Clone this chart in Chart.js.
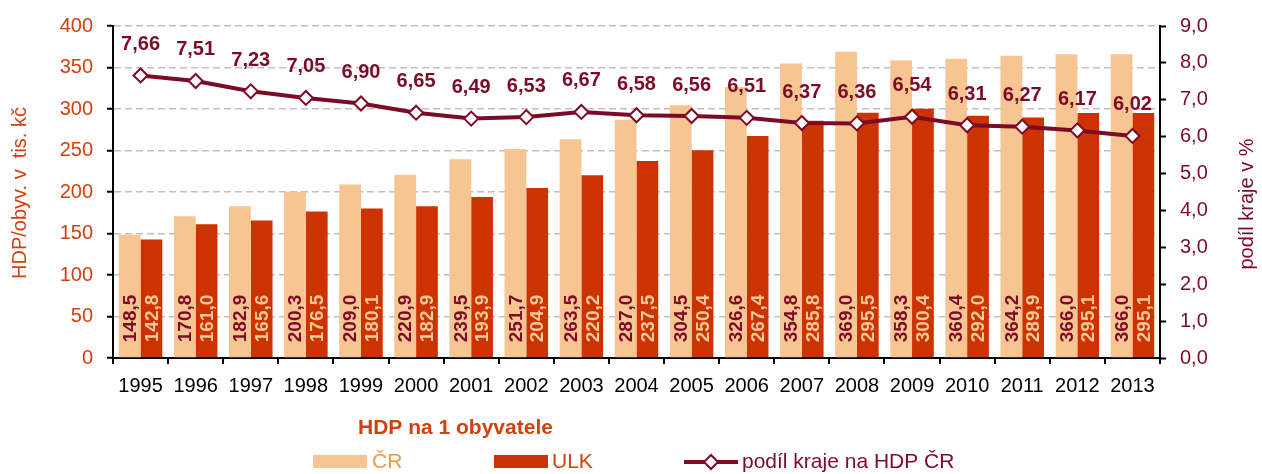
<!DOCTYPE html>
<html>
<head>
<meta charset="utf-8">
<script src="https://cdn.jsdelivr.net/npm/chart.js@4"></script>
<style>
  html, body { margin: 0; padding: 0; background: #fff; }
</style>
</head>
<body>
<canvas id="hdpChart" width="1262" height="474"></canvas>
<script>
const years = ['1995','1996','1997','1998','1999','2000','2001','2002','2003','2004','2005','2006','2007','2008','2009','2010','2011','2012','2013'];
const hdpCR = [148.5,170.8,182.9,200.3,209.0,220.9,239.5,251.7,263.5,287.0,304.5,326.6,354.8,369.0,358.3,360.4,364.2,366.0,366.0];
const hdpULK = [142.8,161.0,165.6,176.5,180.1,182.9,193.9,204.9,220.2,237.5,250.4,267.4,285.8,295.5,300.4,292.0,289.9,295.1,295.1];
const podilKraje = [7.66,7.51,7.23,7.05,6.90,6.65,6.49,6.53,6.67,6.58,6.56,6.51,6.37,6.36,6.54,6.31,6.27,6.17,6.02];

const FONT = '"Liberation Sans", Arial, sans-serif';
const orangeRed = '#d2400f';
const maroon = '#7d0a26';

const fmt1 = v => v.toFixed(1).replace('.', ',');
const fmt2 = v => v.toFixed(2).replace('.', ',');

// popisky hodnot + titulky os + legenda
const labelsPlugin = {
  id: 'labels',
  afterDatasetsDraw(chart) {
    const ctx = chart.ctx;
    ctx.save();
    // svisle popisky v sloupcich
    [[0, maroon], [1, '#f9c99a']].forEach(([di, col]) => {
      const meta = chart.getDatasetMeta(di);
      meta.data.forEach((bar, i) => {
        ctx.save();
        ctx.translate(bar.x, bar.base - 15);
        ctx.rotate(-Math.PI / 2);
        ctx.font = 'bold 19px ' + FONT;
        ctx.fillStyle = col;
        ctx.textAlign = 'left';
        ctx.textBaseline = 'middle';
        ctx.fillText(fmt1(chart.data.datasets[di].data[i]), 0, 1);
        ctx.restore();
      });
    });
    // popisky nad carou
    const lm = chart.getDatasetMeta(2);
    ctx.font = 'bold 20px ' + FONT;
    ctx.fillStyle = maroon;
    ctx.textAlign = 'center';
    ctx.textBaseline = 'middle';
    lm.data.forEach((pt, i) => {
      ctx.fillText(fmt2(podilKraje[i]), pt.x, pt.y - 31);
    });
    ctx.restore();
  },
  afterDraw(chart) {
    const ctx = chart.ctx;
    ctx.save();
    // titulky os
    ctx.font = '20px ' + FONT;
    ctx.textAlign = 'center';
    ctx.textBaseline = 'middle';
    ctx.fillStyle = orangeRed;
    ctx.save();
    ctx.translate(20, 193);
    ctx.rotate(-Math.PI / 2);
    ctx.fillText('HDP/obyv. v  tis. kč', 0, 0);
    ctx.restore();
    ctx.fillStyle = maroon;
    ctx.save();
    ctx.translate(1247, 204);
    ctx.rotate(-Math.PI / 2);
    ctx.fillText('podíl kraje v %', 0, 0);
    ctx.restore();

    // nadpis legendy
    ctx.font = 'bold 21px ' + FONT;
    ctx.fillStyle = orangeRed;
    ctx.textAlign = 'left';
    ctx.fillText('HDP na 1 obyvatele', 358, 428);

    // legenda
    const ly = 462;
    ctx.font = '21px ' + FONT;
    ctx.fillStyle = '#f6c592';
    ctx.fillRect(313, 455, 54, 13);
    ctx.fillStyle = '#ee9a4a';
    ctx.fillText('ČR', 372, ly);
    ctx.fillStyle = '#cc3300';
    ctx.fillRect(494, 455, 54, 13);
    ctx.fillStyle = orangeRed;
    ctx.fillText('ULK', 552, ly);
    ctx.strokeStyle = maroon;
    ctx.lineWidth = 4;
    ctx.beginPath();
    ctx.moveTo(684, ly);
    ctx.lineTo(738, ly);
    ctx.stroke();
    ctx.fillStyle = '#fff';
    ctx.lineWidth = 2;
    ctx.beginPath();
    ctx.moveTo(711, ly - 7);
    ctx.lineTo(718, ly);
    ctx.lineTo(711, ly + 7);
    ctx.lineTo(704, ly);
    ctx.closePath();
    ctx.fill();
    ctx.stroke();
    ctx.fillStyle = maroon;
    ctx.fillText('podíl kraje na HDP ČR', 742, ly);
    ctx.restore();
  }
};

const ctx = document.getElementById('hdpChart').getContext('2d');
new Chart(ctx, {
  type: 'bar',
  data: {
    labels: years,
    datasets: [
      {
        label: 'ČR',
        data: hdpCR,
        backgroundColor: '#f6c592',
        yAxisID: 'y',
        order: 2,
        categoryPercentage: 0.79,
        barPercentage: 1.0
      },
      {
        label: 'ULK',
        data: hdpULK,
        backgroundColor: '#cc3300',
        yAxisID: 'y',
        order: 2,
        categoryPercentage: 0.79,
        barPercentage: 1.0
      },
      {
        type: 'line',
        label: 'podíl kraje na HDP ČR',
        data: podilKraje,
        yAxisID: 'y1',
        order: 0,
        borderColor: maroon,
        borderWidth: 4,
        pointStyle: 'rectRot',
        pointRadius: 7,
        pointBorderWidth: 2,
        pointBackgroundColor: '#fff',
        pointBorderColor: maroon,
        tension: 0
      }
    ]
  },
  options: {
    responsive: false,
    animation: false,
    layout: { padding: { left: 0, right: 0, top: 21, bottom: 0 } },
    plugins: {
      legend: { display: false },
      tooltip: { enabled: false }
    },
    scales: {
      x: {
        grid: { display: true, drawOnChartArea: false, drawTicks: true, tickLength: 6, color: '#000', lineWidth: 2, offset: true },
        border: { color: '#000', width: 2 },
        ticks: { color: '#000', font: { size: 20, family: FONT }, padding: 10, maxRotation: 0, autoSkip: false },
        afterFit: s => { s.height = 474 - 358; }
      },
      y: {
        position: 'left',
        min: 0,
        max: 400,
        ticks: { stepSize: 50, color: orangeRed, font: { size: 20, family: FONT }, padding: 14 },
        grid: { color: '#c0c0c0', lineWidth: 1.5, tickColor: '#000', tickLength: 6, tickWidth: 2 },
        border: { color: '#000', width: 2, dash: [7, 4] },
        afterFit: s => { s.width = 113; }
      },
      y1: {
        position: 'right',
        min: 0,
        max: 9,
        ticks: { stepSize: 1, color: maroon, font: { size: 20, family: FONT }, padding: 14, callback: v => fmt1(v) },
        grid: { drawOnChartArea: false, tickColor: '#000', tickLength: 6, tickWidth: 2 },
        border: { color: '#000', width: 2 },
        afterFit: s => { s.width = 1262 - 1160; }
      }
    }
  },
  plugins: [labelsPlugin]
});
</script>
</body>
</html>
